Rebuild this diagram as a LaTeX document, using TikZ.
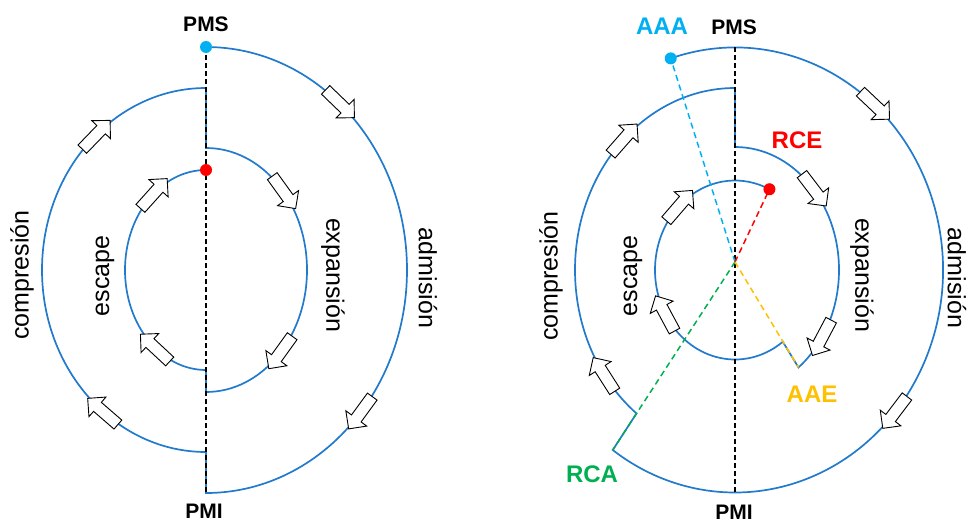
\documentclass[tikz,border=0pt]{standalone}
\usepackage{fontspec}
\setmainfont{Liberation Sans}
\usetikzlibrary{shapes.arrows}

\definecolor{azul}{RGB}{33,122,204}
\definecolor{celeste}{RGB}{0,176,240}
\definecolor{rojo}{RGB}{255,0,0}
\definecolor{ambar}{RGB}{255,192,0}
\definecolor{verde}{RGB}{0,176,80}

\tikzset{%
  ciclo/.style={draw=azul, line width=1.7pt},
  eje/.style={draw=black, line width=1.4pt, dash pattern=on 5pt off 3pt},
  radio/.style={line width=1.5pt, dash pattern=on 6pt off 4pt},
  flecha/.style={single arrow, draw=black, fill=white, line width=0.9pt, inner sep=5.5pt, minimum height=40pt, single arrow head extend=7pt},
  punto/.style={circle, inner sep=0pt, minimum size=12pt},
  fase/.style={font=\fontsize{25}{25}\selectfont},
  marca/.style={font=\bfseries\fontsize{21}{21}\selectfont},
  evento/.style={font=\bfseries\fontsize{24}{24}\selectfont},
}

% nombre, cx, cy, rx, ry, angulo
\newcommand{\flechaen}[6]{%
  \node[flecha, rotate={atan2(-(#5)*cos(#6), -(#4)*sin(#6))}] (#1) at ({#2+(#4)*cos(#6)}, {#3+(#5)*sin(#6)}) {};
}

\begin{document}
\begin{tikzpicture}[x=1pt, y=-1pt]
\useasboundingbox (0,0) rectangle (968,524);

% ciclo teorico
\draw[ciclo] (206,47) arc[start angle=-90, end angle=90, x radius=201, y radius=223]
  -- (206,452) arc[start angle=90, end angle=270, x radius=164, y radius=182]
  -- (206,148) arc[start angle=-90, end angle=90, x radius=101, y radius=122]
  -- (206,370) arc[start angle=90, end angle=270, x radius=81, y radius=100];
\draw[eje] (206,47) -- (206,493);
\node[punto, fill=celeste] (pms1dot) at (206,47) {};
\node[punto, fill=rojo] (rce1dot) at (206,170) {};

\flechaen{f1}{206}{270}{201}{223}{-49}
\flechaen{f2}{206}{270}{201}{223}{39}
\flechaen{f3}{206}{270}{164}{182}{128}
\flechaen{f4}{206}{270}{164}{182}{227}
\flechaen{f5}{206}{270}{101}{122}{-41}
\flechaen{f6}{206}{270}{101}{122}{41}
\flechaen{f7}{206}{270}{81}{100}{127}
\flechaen{f8}{206}{270}{81}{100}{228}

\node[marca] (pms1) at (206,24) {PMS};
\node[marca] (pmi1) at (204,511) {PMI};
\node[fase, rotate=90] (com1) at (22,275) {compresión};
\node[fase, rotate=90] (esc1) at (105,276) {escape};
\node[fase, rotate=-90] (exp1) at (333,275) {expansión};
\node[fase, rotate=-90] (adm1) at (428,278) {admisión};

% ciclo real
\coordinate (o) at (735,262);
\coordinate (aaa) at ({735+208*cos(-108)},{270+222.5*sin(-108)});
\coordinate (cpr) at ({735+160*cos(128)},{270+182*sin(128)});
\coordinate (esc) at ({735+80*cos(53.3)},{270+89.5*sin(53.3)});
\draw[ciclo] (aaa) arc[start angle=-108, end angle=126, x radius=208, y radius=222.5] coordinate (rca)
  -- (cpr) arc[start angle=128, end angle=270, x radius=160, y radius=182]
  -- (735,147) arc[start angle=-90, end angle=52.4, x radius=104, y radius=123] coordinate (aae)
  -- (esc) arc[start angle=53.3, end angle=295.5, x radius=80, y radius=89.5] coordinate (rce);
\draw[eje] (735,47) -- (735,492);
\draw[radio, celeste] (o) -- (aaa);
\draw[radio, rojo] (o) -- (rce);
\draw[radio, verde] (o) -- (rca);
\draw[radio, ambar] (o) -- (aae);
\node[punto, fill=celeste] (aaadot) at (aaa) {};
\node[punto, fill=rojo] (rcedot) at (rce) {};

\flechaen{f9}{735}{270}{208}{222.5}{-48.5}
\flechaen{f10}{735}{270}{208}{222.5}{39}
\flechaen{f11}{735}{270}{160}{182}{144}
\flechaen{f12}{735}{270}{160}{182}{225}
\flechaen{f13}{735}{270}{104}{123}{-42}
\flechaen{f14}{735}{270}{104}{123}{32}
\flechaen{f15}{735}{270}{80}{89.5}{149}
\flechaen{f16}{735}{270}{80}{89.5}{224}

\node[marca] (pms2) at (734,27) {PMS};
\node[marca] (pmi2) at (734,512) {PMI};
\node[evento, text=celeste] (aaalbl) at (662,26) {AAA};
\node[evento, text=rojo] (rcelbl) at (797,140) {RCE};
\node[evento, text=ambar] (aaelbl) at (812,394) {AAE};
\node[evento, text=verde] (rcalbl) at (592,474) {RCA};
\node[fase, rotate=90] (com2) at (551,276) {compresión};
\node[fase, rotate=90] (esc2) at (633,276) {escape};
\node[fase, rotate=-90] (exp2) at (862,275) {expansión};
\node[fase, rotate=-90] (adm2) at (957,278) {admisión};
\end{tikzpicture}
\end{document}
